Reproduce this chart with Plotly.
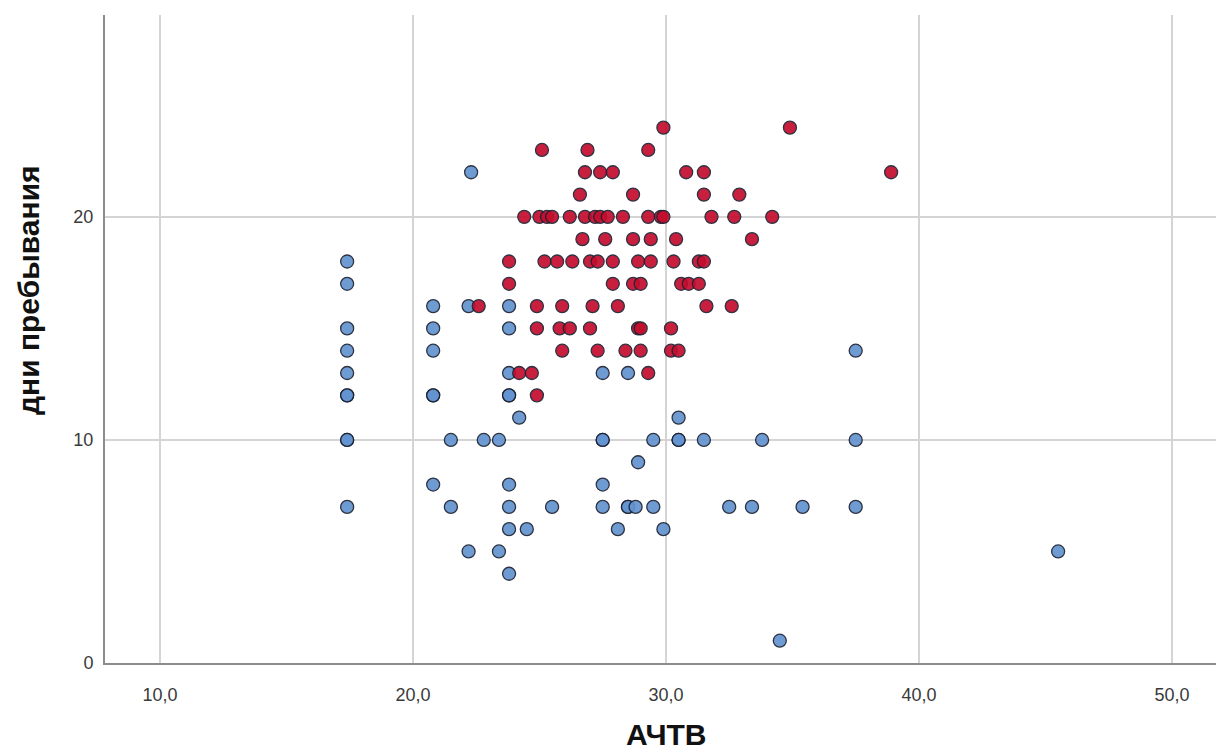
import plotly.graph_objects as go

# Red group: (АЧТВ, дни пребывания)
red_x = [29.9, 34.9,
         25.1, 26.9, 29.3,
         26.8, 27.4, 27.9, 30.8, 31.5, 38.9,
         26.6, 28.7, 31.5, 32.9,
         24.4, 25.0, 25.3, 25.5, 26.2, 26.8, 27.2, 27.4, 27.7, 28.3, 29.3, 29.8, 29.9, 31.8, 32.7, 34.2,
         26.7, 27.6, 28.7, 29.4, 30.4, 33.4,
         23.8, 25.2, 25.7, 26.3, 27.0, 27.3, 27.9, 28.9, 29.4, 30.3, 31.3, 31.5,
         23.8, 27.9, 28.7, 29.0, 30.6, 30.9, 31.3,
         22.6, 24.9, 25.9, 27.1, 28.1, 31.6, 32.6,
         24.9, 25.8, 26.2, 27.0, 28.9, 29.0, 30.2,
         25.9, 27.3, 28.4, 29.0, 30.2, 30.5,
         24.2, 24.7, 29.3,
         24.9]
red_y = [24, 24,
         23, 23, 23,
         22, 22, 22, 22, 22, 22,
         21, 21, 21, 21,
         20, 20, 20, 20, 20, 20, 20, 20, 20, 20, 20, 20, 20, 20, 20, 20,
         19, 19, 19, 19, 19, 19,
         18, 18, 18, 18, 18, 18, 18, 18, 18, 18, 18, 18,
         17, 17, 17, 17, 17, 17, 17,
         16, 16, 16, 16, 16, 16, 16,
         15, 15, 15, 15, 15, 15, 15,
         14, 14, 14, 14, 14, 14,
         13, 13, 13,
         12]

# Blue group
blue_x = [22.3,
          17.4, 17.4,
          20.8, 22.2, 23.8,
          17.4, 20.8, 23.8,
          17.4, 20.8, 37.5,
          17.4, 23.8, 27.5, 28.5,
          17.4, 17.4, 20.8, 20.8, 23.8, 23.8,
          24.2, 30.5,
          17.4, 17.4, 21.5, 22.8, 23.4, 27.5, 27.5, 29.5, 30.5, 30.5, 31.5, 33.8, 37.5,
          28.9,
          20.8, 23.8, 27.5,
          17.4, 21.5, 23.8, 25.5, 27.5, 28.5, 28.5, 28.8, 29.5, 32.5, 33.4, 35.4, 37.5,
          23.8, 24.5, 28.1, 29.9,
          22.2, 23.4, 45.5,
          23.8,
          34.5]
blue_y = [22,
          18, 17,
          16, 16, 16,
          15, 15, 15,
          14, 14, 14,
          13, 13, 13, 13,
          12, 12, 12, 12, 12, 12,
          11, 11,
          10, 10, 10, 10, 10, 10, 10, 10, 10, 10, 10, 10, 10,
          9,
          8, 8, 8,
          7, 7, 7, 7, 7, 7, 7, 7, 7, 7, 7, 7, 7,
          6, 6, 6, 6,
          5, 5, 5,
          4,
          1]

x_ticks = [10, 20, 30, 40, 50]
y_ticks = [0, 10, 20]

marker_line = dict(color="#1c2233", width=1.3)

fig = go.Figure()
fig.add_trace(go.Scatter(
    x=blue_x, y=blue_y, mode="markers",
    marker=dict(size=13, color="#6393d0", line=marker_line, opacity=0.92),
    showlegend=False, name="1"))
fig.add_trace(go.Scatter(
    x=red_x, y=red_y, mode="markers",
    marker=dict(size=13, color="#c30d2d", line=marker_line, opacity=0.92),
    showlegend=False, name="2"))

axis_font = dict(family="Liberation Sans, Arial, sans-serif", size=18, color="#3a3a3a")
title_font = dict(family="Liberation Sans, Arial, sans-serif", size=30, color="#111111")

fig.update_layout(
    width=1216, height=751,
    margin=dict(l=105, r=0, t=15, b=88),
    paper_bgcolor="white", plot_bgcolor="white",
    separators=",.",
    xaxis=dict(
        range=[7.83, 51.74], tickvals=x_ticks, tickformat=".1f",
        showgrid=True, gridcolor="#d4d4d4", gridwidth=2,
        showline=True, linecolor="#8c8c8c", linewidth=2,
        zeroline=False, ticks="", tickfont=axis_font, ticklabelstandoff=14,
    ),
    yaxis=dict(
        range=[0, 29.05], tickvals=y_ticks,
        showgrid=True, gridcolor="#d4d4d4", gridwidth=2,
        showline=True, linecolor="#8c8c8c", linewidth=2,
        zeroline=False, ticks="", tickfont=axis_font, ticklabelstandoff=6,
    ),
    annotations=[
        dict(text="<b>АЧТВ</b>", x=30, xref="x", y=-0.111, yref="paper",
             showarrow=False, font=title_font, xanchor="center", yanchor="middle"),
        dict(text="<b>дни пребывания</b>", x=-0.0693, xref="paper", y=0.5756, yref="paper",
             textangle=-90, showarrow=False, font=title_font,
             xanchor="center", yanchor="middle"),
    ],
)

fig.write_html("out.html")
